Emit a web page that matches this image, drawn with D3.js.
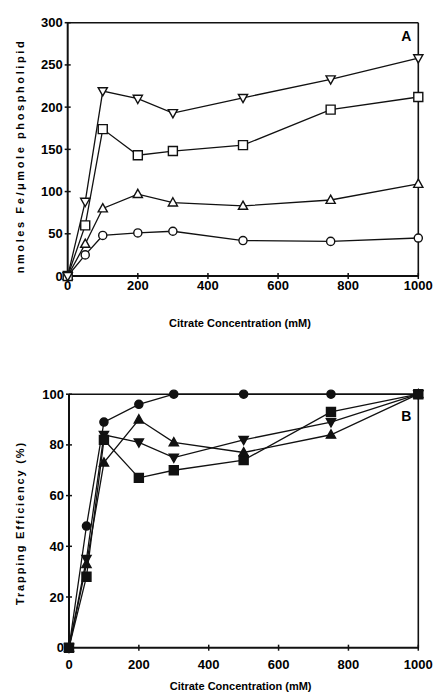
<!DOCTYPE html>
<html lang="en">
<head>
<meta charset="UTF-8">
<title>Citrate trapping</title>
<script src="https://d3js.org/d3.v7.min.js"></script>
<style>
    body { margin: 0; background: #fff; }
    svg { display: block; font-family: "Liberation Sans", Arial, sans-serif; font-weight: bold; }
    .tick-label { font-size: 13px; }
    .axis-title { font-size: 11px; }
    .panel-letter { font-size: 14px; }
</style>
</head>
<body>
<svg id="chart" width="436" height="695"></svg>
<script>
    // citrate concentrations (mM), shared by every series
    const citrate = [0, 50, 100, 200, 300, 500, 750, 1000];
    const xTicks = [0, 200, 400, 600, 800, 1000];

    // panel A: nmoles Fe / umole phospholipid
    const feDown   = [0, 88, 219, 210, 193, 211, 233, 258];
    const feSquare = [0, 60, 174, 143, 148, 155, 197, 212];
    const feUp     = [0, 38, 80, 97, 87, 83, 90, 109];
    const feCircle = [0, 25, 48, 51, 53, 42, 41, 45];
    const feTicks  = [0, 50, 100, 150, 200, 250, 300];

    // panel B: trapping efficiency (%)
    const teCircle = [0, 48, 89, 96, 100, 100, 100, 100];
    const teUp     = [0, 33, 73, 90, 81, 77, 84, 100];
    const teDown   = [0, 35, 84, 81, 75, 82, 89, 100];
    const teSquare = [0, 28, 82, 67, 70, 74, 93, 100];
    const teTicks  = [0, 20, 40, 60, 80, 100];

    const svg = d3.select("#chart");

    const panels = [
        {
            letter: "A", yMax: 300, yTicks: feTicks, filled: false,
            xRange: [67.7, 418.3], yRange: [276, 22.7],
            tickDy: 14, titleDy: 51, yTitleDy: 8, letterDy: 18,
            yTitle: "nmoles Fe/\u03bcmole phospholipid", yTitleLen: 232,
            series: [
                { shape: "circle", values: feCircle },
                { shape: "up", values: feUp },
                { shape: "square", values: feSquare },
                { shape: "down", values: feDown }
            ]
        },
        {
            letter: "B", yMax: 100, yTicks: teTicks, filled: true,
            xRange: [69, 418.3], yRange: [647.7, 394.2],
            tickDy: 21, titleDy: 42, yTitleDy: 3, letterDy: 27,
            yTitle: "Trapping Efficiency (%)", yTitleLen: 162,
            series: [
                { shape: "up", values: teUp },
                { shape: "down", values: teDown },
                { shape: "square", values: teSquare },
                { shape: "circle", values: teCircle }
            ]
        }
    ];

    // marker paths centred on 0,0
    function markerPath(shape) {
        if (shape === "circle") return d3.symbol(d3.symbolCircle, 52)();
        if (shape === "square") return "M-4.5,-4.5H4.5V4.5H-4.5Z";
        if (shape === "up") return "M0,-4.8L4.6,3.4H-4.6Z";
        return "M0,4.8L4.6,-3.4H-4.6Z";
    }

    panels.forEach(p => {
        const x = d3.scaleLinear().domain([0, 1000]).range(p.xRange);
        const y = d3.scaleLinear().domain([0, p.yMax]).range(p.yRange);
        const g = svg.append("g");

        // frame: left and bottom a bit heavier
        g.append("line").attr("x1", x(0)).attr("x2", x(1000)).attr("y1", y(p.yMax)).attr("y2", y(p.yMax))
            .attr("stroke", "#111").attr("stroke-width", 1.4);
        g.append("line").attr("x1", x(1000)).attr("x2", x(1000)).attr("y1", y(p.yMax)).attr("y2", y(0))
            .attr("stroke", "#111").attr("stroke-width", 1.6);
        g.append("line").attr("x1", x(0)).attr("x2", x(0)).attr("y1", y(p.yMax)).attr("y2", y(0))
            .attr("stroke", "#111").attr("stroke-width", 2);
        g.append("line").attr("x1", x(0)).attr("x2", x(1000)).attr("y1", y(0)).attr("y2", y(0))
            .attr("stroke", "#111").attr("stroke-width", 2);

        // ticks crossing the axes
        g.selectAll(".ytick").data(p.yTicks).join("line")
            .attr("x1", x(0) - 3).attr("x2", x(0) + 3)
            .attr("y1", d => y(d)).attr("y2", d => y(d))
            .attr("stroke", "#111").attr("stroke-width", 1.5);
        g.selectAll(".xtick").data(xTicks).join("line")
            .attr("x1", d => x(d)).attr("x2", d => x(d))
            .attr("y1", y(0) - 3).attr("y2", y(0) + 3)
            .attr("stroke", "#111").attr("stroke-width", 1.5);

        g.selectAll(".ylab").data(p.yTicks).join("text")
            .attr("class", "tick-label")
            .attr("x", x(0) - 5).attr("y", d => y(d) + 4.5)
            .attr("text-anchor", "end")
            .text(d => d);
        g.selectAll(".xlab").data(xTicks).join("text")
            .attr("class", "tick-label")
            .attr("x", d => x(d)).attr("y", y(0) + p.tickDy)
            .attr("text-anchor", "middle")
            .text(d => d);

        g.append("text").attr("class", "axis-title")
            .attr("x", (x(0) + x(1000)) / 2 - 3).attr("y", y(0) + p.titleDy)
            .attr("text-anchor", "middle")
            .text("Citrate Concentration (mM)");
        g.append("text").attr("class", "axis-title")
            .attr("transform", `translate(24,${(y(0) + y(p.yMax)) / 2 + p.yTitleDy}) rotate(-90)`)
            .attr("text-anchor", "middle")
            .attr("textLength", p.yTitleLen).attr("lengthAdjust", "spacing")
            .text(p.yTitle);

        g.append("text").attr("class", "panel-letter")
            .attr("x", x(1000) - 12).attr("y", y(p.yMax) + p.letterDy)
            .attr("text-anchor", "middle")
            .text(p.letter);

        const line = d3.line().x((d, i) => x(citrate[i])).y(d => y(d));

        p.series.forEach(s => {
            g.append("path").datum(s.values)
                .attr("d", line)
                .attr("fill", "none").attr("stroke", "#111").attr("stroke-width", 1.3);
        });
        p.series.forEach(s => {
            g.selectAll(null).data(s.values).join("path")
                .attr("transform", (d, i) => `translate(${x(citrate[i])},${y(d)})`)
                .attr("d", markerPath(s.shape))
                .attr("fill", p.filled ? "#111" : "#fff")
                .attr("stroke", "#111").attr("stroke-width", 1.4);
        });
    });
</script>
</body>
</html>
